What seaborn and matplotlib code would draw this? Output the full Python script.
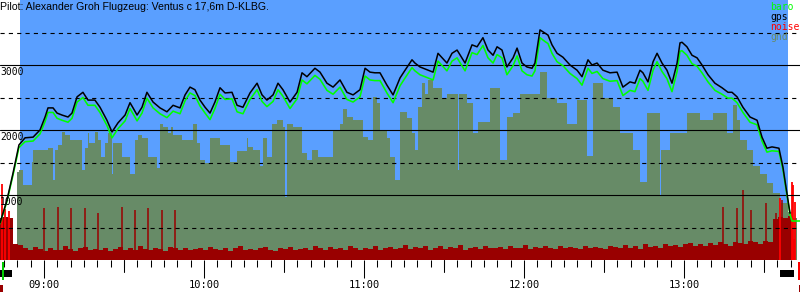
import numpy as np
import pandas as pd
import matplotlib
matplotlib.use("Agg")
import matplotlib.pyplot as plt
import matplotlib.transforms as mtransforms
from matplotlib.patches import Rectangle
from matplotlib.ticker import MultipleLocator, FuncFormatter
import seaborn as sns

# ---------------- data (time = minutes after 08:00, altitude in m) ----------------
title = "Pilot: Alexander Groh Flugzeug: Ventus c 17,6m D-KLBG."
legend_labels = ["baro", "gps", "noise", "gnd"]

gps_t = [43.5, 46.1, 48.4, 50.6, 52.9, 55.9, 58.5, 60.4, 61.5, 63.4, 64.9, 66.75, 69.0, 70.5,
         72.4, 74.6, 76.5, 79.1, 81.0, 83.6, 85.5, 87.75, 90.4, 92.25, 93.4, 94.9, 96.75, 98.6,
         100.9, 103.5, 106.1, 108.4, 111.0, 112.9, 114.75, 116.6, 118.5, 120.4, 122.25, 124.1,
         126.0, 127.9, 130.5, 132.4, 134.6, 137.25, 139.9, 141.75, 143.6, 145.9, 147.75, 149.6,
         152.25, 154.9, 156.75, 158.6, 161.6, 163.5, 166.1, 168.4, 171.0, 173.6, 175.9, 178.5,
         180.4, 182.25, 184.1, 186.0, 188.6, 190.9, 193.5, 195.4, 198.0, 199.1, 201.0, 204.0,
         205.9, 207.75, 211.1, 213.0, 214.9, 217.9, 220.5, 222.4, 224.6, 226.5, 228.4, 229.9,
         231.75, 233.6, 235.9, 237.4, 239.25, 241.1, 243.0, 244.1, 246.0, 247.9, 249.0, 250.5,
         252.4, 254.6, 257.25, 259.9, 261.75, 264.0, 265.5, 267.4, 269.6, 272.25, 274.9, 277.1,
         279.75, 281.6, 283.5, 284.6, 286.5, 288.4, 289.9, 291.75, 293.6, 295.5, 297.4, 298.5,
         299.25, 301.1, 303.0, 304.9, 306.75, 309.0, 311.6, 314.25, 316.5, 318.0, 319.9, 322.1,
         324.75, 327.4, 329.25, 331.1, 333.0, 335.6, 337.1, 338.6, 339.75]
gps_alt = [570, 920, 1340, 1770, 1880, 1890, 2000, 2200, 2340, 2340, 2260, 2230, 2200, 2260,
           2510, 2580, 2460, 2460, 2350, 2150, 1970, 2110, 2230, 2420, 2340, 2230, 2350, 2580,
           2430, 2340, 2280, 2380, 2340, 2540, 2660, 2620, 2460, 2350, 2260, 2430,
           2650, 2570, 2580, 2380, 2350, 2570, 2720, 2540, 2460, 2540, 2720, 2620,
           2430, 2580, 2880, 2820, 2950, 2890, 2720, 2660, 2770, 2580, 2540, 2620,
           2950, 2890, 2880, 2880, 2690, 2540, 2800, 2920, 3080, 3030, 2970, 2920,
           2890, 3180, 3030, 3180, 3230, 3030, 3310, 3280, 3420, 3230, 3150, 3280,
           3230, 2970, 3110, 3260, 3030, 2970, 2950, 3030, 3540, 3490, 3460, 3310,
           3180, 3120, 3000, 2920, 2820, 3080, 3000, 3030, 2920, 2880, 2890, 2660,
           2740, 2720, 2920, 2880, 2740, 3050, 3180, 3030, 2920, 2720, 3030, 3340,
           3350, 3280, 3150, 3110, 3000, 2850, 2720, 2650, 2580, 2580, 2510, 2350,
           2200, 2150, 1890, 1720, 1740, 1720, 1430, 1030, 720]

baro_t = gps_t + [340.5, 343.5]
baro_alt = [560, 900, 1310, 1730, 1820, 1830, 1940, 2130, 2270, 2270, 2180, 2150, 2120, 2180,
            2430, 2500, 2380, 2380, 2270, 2070, 1880, 2020, 2140, 2330, 2250, 2140, 2260, 2490,
            2340, 2250, 2190, 2290, 2250, 2450, 2570, 2530, 2370, 2260, 2160, 2330,
            2550, 2470, 2480, 2280, 2250, 2470, 2620, 2440, 2360, 2440, 2620, 2520,
            2330, 2480, 2770, 2710, 2840, 2780, 2610, 2550, 2660, 2470, 2430, 2510,
            2830, 2770, 2760, 2760, 2570, 2420, 2680, 2800, 2960, 2910, 2850, 2800,
            2770, 3060, 2910, 3060, 3110, 2910, 3190, 3160, 3300, 3110, 3030, 3160,
            3110, 2850, 2990, 3140, 2910, 2850, 2830, 2910, 3420, 3360, 3330, 3180,
            3050, 2990, 2870, 2790, 2690, 2950, 2870, 2900, 2790, 2750, 2760, 2530,
            2610, 2590, 2790, 2750, 2610, 2920, 3050, 2900, 2790, 2590, 2900, 3210,
            3220, 3150, 3020, 2980, 2880, 2740, 2610, 2550, 2490, 2490, 2420, 2270,
            2120, 2080, 1830, 1660, 1680, 1670, 1390, 1000, 700, 600, 600]

gnd_t = [43.5, 49.75, 50.75, 52.25, 55.4, 56.0, 61.6, 63.5, 64.1, 65.4, 66.6, 67.9, 69.75,
         74.1, 75.4, 76.4, 77.0, 79.1, 80.4, 81.25, 82.9, 84.1, 85.4, 86.0, 89.1, 92.25, 94.1,
         95.4, 96.6, 99.1, 102.25, 103.5, 104.75, 106.6, 107.5, 108.5, 111.6, 116.0, 117.25,
         118.5, 120.4, 122.25, 126.0, 129.75, 132.25, 136.0, 136.6, 138.5, 141.0, 142.25,
         143.5, 145.4, 147.25, 149.75, 150.4, 151.0, 153.5, 156.6, 158.5, 160.4, 162.9,
         168.5, 171.0, 172.25, 173.5, 176.0, 179.75, 181.6, 183.5, 184.75, 186.0, 188.5,
         189.75, 191.6, 193.5, 196.0, 197.9, 199.1, 200.4, 201.6, 202.9, 204.1, 206.0, 209.1,
         211.0, 215.4, 215.6, 218.5, 221.0, 222.9, 226.4, 226.6, 227.25, 231.0, 233.5, 236.0,
         238.5, 246.0, 248.5, 252.25, 256.0, 259.75, 263.5, 266.0, 269.75, 273.5, 276.0,
         281.0, 283.5, 286.0, 291.0, 291.25, 294.75, 301.0, 306.0, 311.0, 316.0, 318.5,
         319.75, 321.0, 323.5, 326.0, 328.5, 331.0, 333.5, 336.0, 339.1, 340.4, 342.25]
gnd_alt = [0, 1360, 1380, 1150, 1510, 1690, 1720, 1230, 1690, 1770, 1970, 1920, 1850,
           1380, 1720, 1950, 1800, 1970, 1850, 1590, 1800, 1950, 1330, 1800, 1590, 1330, 1850,
           1920, 1880, 1590, 1410, 2100, 2050, 1950, 2050, 1920, 1850, 2100, 1800,
           1540, 1490, 1870, 1770, 1510, 1670, 1870, 1740, 1690, 1440, 1870,
           1590, 2100, 2150, 2050, 970, 2100, 2050, 1640, 1540, 1690, 1580,
           2000, 2100, 2330, 2200, 2150, 1900, 1850, 2510, 2410, 2000, 1870,
           1590, 1230, 2280, 2180, 1950, 1690, 2360, 2720, 2560, 2770, 2640, 2490,
           2560, 1390, 2560, 2410, 1950, 2130, 1180, 2130, 2640, 1540, 2200, 2260,
           2560, 2900, 2490, 2410, 2100, 2460, 1600, 2720, 2500, 2360, 1950,
           1690, 1200, 2260, 980, 1690, 1950, 2260, 2150, 2260, 1950, 2380,
           2150, 1850, 1700, 1440, 1330, 1180, 1030, 870, 740, 640, 0]

noise_start, noise_step = 43.5, 1.875
noise_base = [640, 660, 640, 250,
              230, 180, 150, 200, 170, 140, 190, 160, 150, 210, 170, 140, 180, 200, 150, 170,
              160, 190, 140, 170, 200, 150, 180, 160, 210, 170, 150, 190, 170, 140, 200, 180, 160, 190, 150, 170,
              180, 150, 200, 170, 160, 190, 140, 180, 210, 160, 170, 150, 190, 200, 160, 140, 180, 170, 200, 150,
              170, 190, 160, 210, 180, 150, 200, 170, 190, 160, 220, 180, 150, 190, 170, 210, 160, 180, 200, 170,
              190, 230, 170, 200, 180, 220, 160, 190, 210, 170, 200, 180, 230, 160, 190, 200, 170, 210, 180, 190,
              200, 170, 220, 180, 190, 230, 170, 200, 180, 210, 190, 170, 220, 180, 200, 190, 170, 210, 180, 200,
              190, 170, 220, 200, 180, 230, 190, 210, 170, 240, 200, 220, 190, 250, 210, 230, 200, 240, 260, 220,
              240, 210, 260, 230, 270, 250, 220, 280, 260, 240, 290, 270, 250, 300, 280, 630, 660, 640, 680, 320]
spike_t = [60.0, 65.25, 70.1, 75.4, 80.25, 89.25, 94.1, 99.0, 104.25, 109.1,
           314.6, 319.9, 322.1, 325.1, 330.75, 334.5, 336.75]
spike_alt = [800, 815, 800, 800, 720, 815, 770, 800, 770, 770,
             815, 800, 1080, 770, 880, 720, 920]
loud_t = [44.25, 45.4, 46.9, 336.0, 340.5, 340.9, 341.6]
loud_alt = [1170, 780, 760, 950, 1200, 1150, 900]

# ---------------- style ----------------
sns.set_theme(style="white")
plt.rcParams["font.family"] = ["DejaVu Sans"]
plt.rcParams["lines.scale_dashes"] = False

BLUE = "#5a9fff"
GND = "#678b67"
DRED = "#990000"
RED = "#ff0000"
GREEN = "#00ff00"
MONO = "DejaVu Sans Mono"

fig = plt.figure(figsize=(8, 3), dpi=100)
ax = fig.add_axes([0, 40 / 300, 1, 260 / 300])
ax.set_xlim(43.5, 343.5)
ax.set_ylim(0, 4000)
for s in ax.spines.values():
    s.set_visible(False)
ax.set_facecolor("white")

# flight window background
ax.axvspan(51.0, 339.0, color=BLUE, lw=0, zorder=0)

# ground
ax.fill_between(gnd_t, gnd_alt, step="post", color=GND, lw=0, zorder=1)

# noise
noise_t = noise_start + noise_step * np.arange(len(noise_base))
ax.fill_between(noise_t, noise_base, step="mid", color=DRED, lw=0, zorder=2)
ax.vlines(spike_t, 0, spike_alt, color=DRED, lw=1.1, zorder=2)
ax.vlines(loud_t, 0, loud_alt, color=RED, lw=1.3, zorder=2.1)

# reference lines
for v in (1000, 2000, 3000):
    ax.axhline(v, color="black", lw=0.8, zorder=3)
for v in (500, 1500, 2500, 3500):
    ax.axhline(v, color="black", lw=0.8, dashes=(3, 3), zorder=3)

# altitude curves
baro_df = pd.DataFrame({"t": baro_t, "alt": baro_alt})
gps_df = pd.DataFrame({"t": gps_t, "alt": gps_alt})
sns.lineplot(data=baro_df, x="t", y="alt", color=GREEN, lw=1.15, estimator=None, sort=False, ax=ax, zorder=4)
sns.lineplot(data=gps_df, x="t", y="alt", color="black", lw=1.1, estimator=None, sort=False, ax=ax, zorder=5)
ax.set_xlabel("")
ax.set_ylabel("")
ax.set_xlim(43.5, 343.5)
ax.set_ylim(0, 4000)

# y labels inside plot
ytr = mtransforms.blended_transform_factory(ax.transAxes, ax.transData)
for v in (1000, 2000, 3000):
    ax.annotate(str(v), xy=(0, v), xycoords=ytr, xytext=(0, -1.5), textcoords="offset points",
                ha="left", va="top", family=MONO, fontsize=7, color="black", zorder=6)
ax.set_yticks([])

# x ticks
ax.xaxis.set_major_locator(MultipleLocator(60))
ax.xaxis.set_minor_locator(MultipleLocator(5))
ax.xaxis.set_major_formatter(FuncFormatter(lambda m, p: f"{int(round(m)) // 60 + 8:02d}:00"))
ax.tick_params(axis="x", which="major", bottom=True, direction="out", length=13, width=0.75,
               color="black", labelsize=7.5, pad=1.5, labelcolor="black")
ax.tick_params(axis="x", which="minor", bottom=True, direction="out", length=5, width=0.75, color="black")
for lab in ax.get_xticklabels():
    lab.set_family(MONO)
xtr = mtransforms.blended_transform_factory(ax.transData, ax.transAxes)
for m in (90, 150, 210, 270, 330):
    ax.plot([m, m], [0, -12 / 260], transform=xtr, color="black", lw=0.75, clip_on=False)

# event markers under the axis
markers = [(43.5, 48.0, -17 / 260, 7 / 260, "black"),
           (44.1, 45.0, -20 / 260, 18 / 260, "#00cc00"),
           (43.5, 44.6, -32 / 260, 7 / 260, DRED),
           (336.0, 341.1, -17 / 260, 7 / 260, "black"),
           (342.75, 343.5, -20 / 260, 18 / 260, RED),
           (343.1, 343.5, -32 / 260, 7 / 260, DRED)]
for x0, x1, y0, h, c in markers:
    ax.add_patch(Rectangle((x0, y0), x1 - x0, h, transform=xtr, color=c, lw=0, clip_on=False))

# title and legend
fig.text(0, 1 - 1.5 / 300, title, ha="left", va="top", family="Liberation Sans", fontsize=7.6, color="black")
leg_colors = [GREEN, "black", RED, GND]
for i, (lab, c) in enumerate(zip(legend_labels, leg_colors)):
    fig.text(770 / 800, 1 - (2 + 10 * i) / 300, lab, ha="left", va="top", family=MONO, fontsize=7, color=c)

fig.savefig("out.png", dpi=100)
